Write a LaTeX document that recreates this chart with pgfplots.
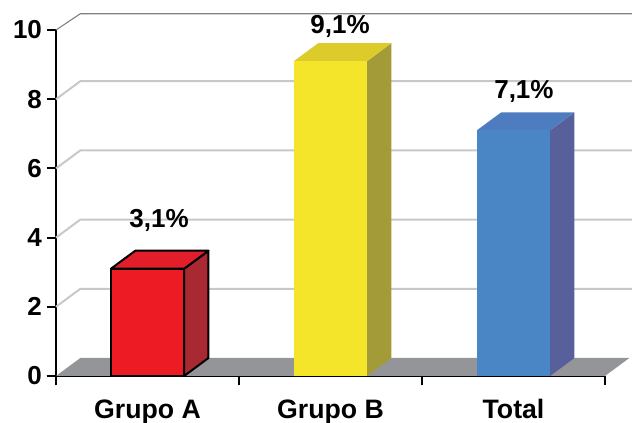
\documentclass[border=0pt]{standalone}
\usepackage{pgfplots}
\pgfplotsset{compat=1.18}
\usepackage{fontspec}
\setmainfont{Liberation Sans}
\definecolor{gridc}{HTML}{C8C8C8}
\definecolor{topc}{HTML}{808080}
\definecolor{floorc}{HTML}{939598}
\definecolor{redF}{HTML}{ED1C24}
\definecolor{redS}{HTML}{A82932}
\definecolor{redT}{HTML}{E31E2B}
\definecolor{yelF}{HTML}{F5E52A}
\definecolor{yelS}{HTML}{A39A38}
\definecolor{yelT}{HTML}{DCCB2B}
\definecolor{bluF}{HTML}{4A86C5}
\definecolor{bluS}{HTML}{58609C}
\definecolor{bluT}{HTML}{4D7CC0}
\begin{document}
\begin{tikzpicture}
\begin{axis}[
  at={(42pt,35.25pt)}, anchor=south west,
  x=137.25pt, y=25.95pt,
  xmin=0, xmax=3, ymin=0, ymax=10,
  enlargelimits=false, clip=false,
  axis lines=left,
  axis line style={-, line width=1.5pt, black},
  xtick={0,1,2,3}, xticklabels={},
  ytick={0,2,4,6,8,10},
  tick align=outside,
  major tick length=7pt,
  tick style={line width=1.5pt, black},
  /pgf/number format/assume math mode=true,
  yticklabel style={font=\bfseries\fontsize{19.5}{20}\selectfont, anchor=east, xshift=0pt},
]
% back wall grid lines
\addplot[gridc, line width=1.5pt] coordinates {(0,2) (0.133,2.52) (3.148,2.52)};
\addplot[gridc, line width=1.5pt] coordinates {(0,4) (0.133,4.52) (3.148,4.52)};
\addplot[gridc, line width=1.5pt] coordinates {(0,6) (0.133,6.52) (3.148,6.52)};
\addplot[gridc, line width=1.5pt] coordinates {(0,8) (0.133,8.52) (3.148,8.52)};
\addplot[topc, line width=0.8pt] coordinates {(0,10) (0.133,10.47) (3.148,10.47)};
% floor
\addplot[fill=floorc, draw=none] coordinates {(0,0) (3,0) (3.133,0.52) (0.133,0.52)} -- cycle;
% Grupo A (3.1)
\addplot[fill=redS, draw=black, line width=1.5pt, line join=round] coordinates {(0.7,0) (0.833,0.52) (0.833,3.62) (0.7,3.1)} -- cycle;
\addplot[fill=redT, draw=black, line width=1.5pt, line join=round] coordinates {(0.3,3.1) (0.7,3.1) (0.833,3.62) (0.433,3.62)} -- cycle;
\addplot[fill=redF, draw=black, line width=1.5pt, line join=round] coordinates {(0.3,0) (0.7,0) (0.7,3.1) (0.3,3.1)} -- cycle;
% Grupo B (9.1)
\addplot[fill=yelS, draw=none] coordinates {(1.7,0) (1.833,0.52) (1.833,9.62) (1.7,9.1)} -- cycle;
\addplot[fill=yelT, draw=none] coordinates {(1.3,9.1) (1.7,9.1) (1.833,9.62) (1.433,9.62)} -- cycle;
\addplot[fill=yelF, draw=none] coordinates {(1.3,0) (1.7,0) (1.7,9.1) (1.3,9.1)} -- cycle;
% Total (7.1)
\addplot[fill=bluS, draw=none] coordinates {(2.7,0) (2.833,0.52) (2.833,7.62) (2.7,7.1)} -- cycle;
\addplot[fill=bluT, draw=none] coordinates {(2.3,7.1) (2.7,7.1) (2.833,7.62) (2.433,7.62)} -- cycle;
\addplot[fill=bluF, draw=none] coordinates {(2.3,0) (2.7,0) (2.7,7.1) (2.3,7.1)} -- cycle;
% value labels
\node[anchor=base, inner sep=0pt, font=\bfseries\fontsize{19.5}{20}\selectfont] at (axis cs:0.563,4.28) {3,1\%};
\node[anchor=base, inner sep=0pt, font=\bfseries\fontsize{19.5}{20}\selectfont] at (axis cs:1.552,9.91) {9,1\%};
\node[anchor=base, inner sep=0pt, font=\bfseries\fontsize{19.5}{20}\selectfont] at (axis cs:2.557,8.03) {7,1\%};
% category labels
\node[anchor=base, inner sep=0pt, font=\bfseries\fontsize{20}{21}\selectfont] at (axis cs:0.5,0) [yshift=-32.25pt] {Grupo A};
\node[anchor=base, inner sep=0pt, font=\bfseries\fontsize{20}{21}\selectfont] at (axis cs:1.5,0) [yshift=-32.25pt] {Grupo B};
\node[anchor=base, inner sep=0pt, font=\bfseries\fontsize{20}{21}\selectfont] at (axis cs:2.5,0) [yshift=-32.25pt] {Total};
\end{axis}
\pgfresetboundingbox
\path[use as bounding box] (0,0) rectangle (474pt,317.25pt);
\end{tikzpicture}
\end{document}
